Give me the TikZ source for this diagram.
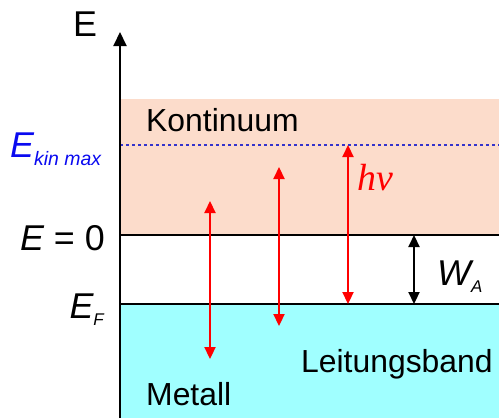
\documentclass[tikz,border=0pt]{standalone}
\usepackage{fontspec}
\setmainfont{Liberation Sans}
\newfontfamily\timesfont{Liberation Serif}
\usetikzlibrary{arrows.meta,positioning,calc}
\definecolor{salmon}{HTML}{FCDCCB}
\definecolor{cyanband}{HTML}{A0FFFF}
\definecolor{dashblue}{HTML}{3333CC}
\definecolor{ekblue}{HTML}{0A0AF0}
\definecolor{arred}{HTML}{FF0000}

\begin{document}
\begin{tikzpicture}[x=1bp,y=-1bp,
  lbl/.style={inner sep=0pt,font=\fontsize{32}{35}\selectfont},
  big/.style={inner sep=0pt,font=\fontsize{36}{39}\selectfont},
  level/.style={line width=2bp,black},
  redarr/.style={{Triangle[length=12bp,width=11bp]}-{Triangle[length=12bp,width=11bp]},line width=2.2bp,arred},
  blkarr/.style={{Triangle[length=12bp,width=11bp]}-{Triangle[length=12bp,width=11bp]},line width=2.2bp,black}]
\useasboundingbox (0,0) rectangle (499,418);
% bands
\fill[salmon] (120,99) rectangle (499,235);
\fill[cyanband] (120,304) rectangle (499,418);
\draw[dashblue,line width=1.5bp,dash pattern=on 3bp off 3bp] (120,145) -- (499,145);
\draw[level] (120,235) -- (499,235);
\draw[level] (120,304) -- (499,304);
% energy axis
\coordinate (ax0) at (120,418);
\coordinate (ax1) at (120,32);
\draw[-{Triangle[length=14bp,width=13bp]},line width=2bp] (ax0) -- (ax1);
\node[big,anchor=base west] (E) at (73,36) {E};
% labels left of axis
\node[big,anchor=base west,text=ekblue] (ekin) at (10,157)
  {\itshape E\raisebox{-8bp}{\fontsize{19.5}{20}\selectfont kin max}};
\node[big,anchor=base east] (E0) at (105,250) {\itshape E\upshape{} = 0};
\node[big,anchor=base east] (EF) at (104,318)
  {\itshape E\raisebox{-7bp}{\fontsize{17}{18}\selectfont F}};
% region names
\node[lbl,anchor=base west] (kont) at (146,131) {Kontinuum};
\node[lbl,anchor=base west] (leit) at (301,372) {Leitungsband};
\node[lbl,anchor=base west] (met) at (146,405) {Metall};
% transitions
\coordinate (a1) at (210,201);
\coordinate (b1) at (210,359);
\coordinate (a2) at (279,167);
\coordinate (b2) at (279,326);
\coordinate (a3) at (348,145);
\coordinate (b3) at (348,304);
\coordinate (w0) at (414,235);
\coordinate (w1) at (414,304);
\draw[redarr] (a1) -- (b1);
\draw[redarr] (a2) -- (b2);
\draw[redarr] (a3) -- (b3);
\draw[blkarr] (w0) -- (w1);
\node[inner sep=0pt,anchor=base west,text=arred,font=\fontsize{38}{40}\timesfont\itshape] (hv) at (357,190) {hν};
\node[big,anchor=base west] (WA) at (437,285)
  {\itshape W\raisebox{-7bp}{\fontsize{17}{18}\selectfont A}};
\end{tikzpicture}
\end{document}
